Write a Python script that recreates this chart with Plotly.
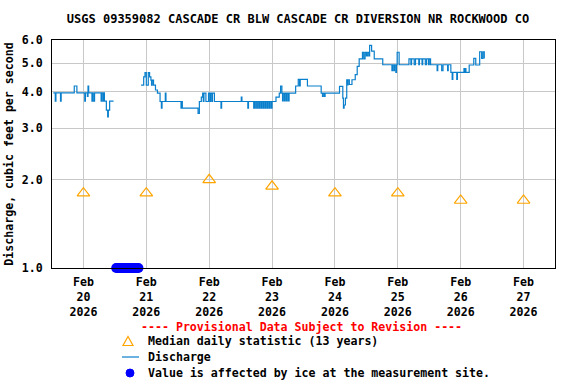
import plotly.graph_objects as go

# ---------------- data ----------------
discharge_times = [
    "2026-02-19 12:30", "2026-02-19 13:15", "2026-02-19 13:30", "2026-02-19 15:15",
    "2026-02-19 15:30", "2026-02-19 20:30", "2026-02-19 21:30", "2026-02-20 00:30",
    "2026-02-20 00:45", "2026-02-20 01:30", "2026-02-20 01:45", "2026-02-20 02:00",
    "2026-02-20 03:15", "2026-02-20 03:30", "2026-02-20 03:45", "2026-02-20 04:15",
    "2026-02-20 06:45", "2026-02-20 07:00", "2026-02-20 07:30", "2026-02-20 07:45",
    "2026-02-20 08:00", "2026-02-20 08:45", "2026-02-20 09:15", "2026-02-20 09:30",
    "2026-02-20 10:00", "2026-02-20 11:30",
    "2026-02-20 12:00",
    "2026-02-20 22:00", "2026-02-20 23:00", "2026-02-20 23:30", "2026-02-21 00:00",
    "2026-02-21 00:45", "2026-02-21 01:15", "2026-02-21 01:45", "2026-02-21 02:00",
    "2026-02-21 02:15", "2026-02-21 02:45", "2026-02-21 03:30", "2026-02-21 04:15",
    "2026-02-21 05:15", "2026-02-21 05:45", "2026-02-21 06:00", "2026-02-21 07:15",
    "2026-02-21 07:30", "2026-02-21 13:15", "2026-02-21 13:30", "2026-02-21 13:45",
    "2026-02-21 19:45", "2026-02-21 20:15", "2026-02-21 21:00", "2026-02-21 21:30",
    "2026-02-21 21:45", "2026-02-21 22:00", "2026-02-21 22:45", "2026-02-21 23:45",
    "2026-02-22 00:15", "2026-02-22 00:30", "2026-02-22 01:00", "2026-02-22 01:15",
    "2026-02-22 02:00", "2026-02-22 04:30", "2026-02-22 04:45", "2026-02-22 12:15",
    "2026-02-22 12:30", "2026-02-22 14:45", "2026-02-22 15:00", "2026-02-22 17:00",
    "2026-02-22 17:15", "2026-02-22 17:45", "2026-02-22 18:00", "2026-02-22 18:30",
    "2026-02-22 18:45", "2026-02-22 19:15", "2026-02-22 19:30", "2026-02-22 20:00",
    "2026-02-22 20:15", "2026-02-22 20:45", "2026-02-22 21:00", "2026-02-22 21:30",
    "2026-02-22 21:45", "2026-02-22 22:15", "2026-02-22 22:30", "2026-02-22 23:00",
    "2026-02-22 23:15", "2026-02-22 23:45", "2026-02-23 00:00", "2026-02-23 01:30",
    "2026-02-23 02:45", "2026-02-23 03:15", "2026-02-23 03:45", "2026-02-23 04:00",
    "2026-02-23 04:15", "2026-02-23 04:45", "2026-02-23 05:00", "2026-02-23 05:30",
    "2026-02-23 05:45", "2026-02-23 06:15", "2026-02-23 06:30", "2026-02-23 09:00",
    "2026-02-23 10:00", "2026-02-23 10:30", "2026-02-23 10:45", "2026-02-23 13:30",
    "2026-02-23 18:45", "2026-02-23 19:15", "2026-02-23 19:30", "2026-02-23 20:00",
    "2026-02-23 20:15", "2026-02-24 01:45", "2026-02-24 03:00", "2026-02-24 03:15",
    "2026-02-24 03:30", "2026-02-24 04:00", "2026-02-24 04:30", "2026-02-24 04:45",
    "2026-02-24 05:00", "2026-02-24 05:30", "2026-02-24 06:30", "2026-02-24 07:45",
    "2026-02-24 08:30", "2026-02-24 09:15", "2026-02-24 10:30", "2026-02-24 11:00",
    "2026-02-24 11:30", "2026-02-24 12:00", "2026-02-24 12:30", "2026-02-24 13:00",
    "2026-02-24 13:15", "2026-02-24 14:00", "2026-02-24 15:00", "2026-02-24 18:15",
    "2026-02-24 21:45", "2026-02-24 22:00", "2026-02-24 22:30", "2026-02-24 22:45",
    "2026-02-24 23:15", "2026-02-24 23:30", "2026-02-24 23:45", "2026-02-25 00:30",
    "2026-02-25 04:15", "2026-02-25 05:00", "2026-02-25 05:15", "2026-02-25 06:15",
    "2026-02-25 06:45", "2026-02-25 08:00", "2026-02-25 08:15", "2026-02-25 09:15",
    "2026-02-25 09:30", "2026-02-25 10:30", "2026-02-25 11:00", "2026-02-25 11:45",
    "2026-02-25 12:00", "2026-02-25 12:30", "2026-02-25 15:00", "2026-02-25 15:15",
    "2026-02-25 16:45", "2026-02-25 17:15", "2026-02-25 19:00", "2026-02-25 19:15",
    "2026-02-25 20:15", "2026-02-25 20:45", "2026-02-25 21:00", "2026-02-25 22:30",
    "2026-02-25 22:45", "2026-02-26 01:15", "2026-02-26 01:30", "2026-02-26 01:45",
    "2026-02-26 02:00", "2026-02-26 03:15", "2026-02-26 05:00", "2026-02-26 05:45",
    "2026-02-26 07:15", "2026-02-26 08:00", "2026-02-26 08:30", "2026-02-26 09:00",
]
discharge_values = [
    3.96, 3.71, 3.96, 3.71,
    3.96, 4.18, 3.96, 3.71,
    3.96, 3.85, 4.18, 3.96,
    3.71, 3.96, 3.71, 3.96,
    3.71, 3.96, 3.71, 3.96,
    3.71, 3.46, 3.28, 3.46,
    3.71, 3.71,
    None,
    4.21, 4.49, 4.64, 4.21,
    4.64, 4.49, 4.38, 4.21,
    4.38, 4.21, 4.05, 3.95,
    3.70, 3.51, 3.70, 3.95,
    3.70, 3.51, 3.70, 3.51,
    3.37, 3.70, 3.83, 3.95,
    3.70, 3.95, 3.70, 3.95,
    3.70, 3.95, 3.70, 3.95,
    3.70, 3.51, 3.70, 3.83,
    3.70, 3.51, 3.70, 3.51,
    3.70, 3.51, 3.70, 3.51,
    3.70, 3.51, 3.70, 3.51,
    3.70, 3.51, 3.70, 3.51,
    3.70, 3.51, 3.70, 3.51,
    3.70, 3.51, 3.70, 3.83,
    3.95, 4.18, 3.95, 3.72,
    3.95, 3.72, 3.95, 3.72,
    3.95, 3.72, 3.95, 4.18,
    4.40, 4.18, 4.40, 4.18,
    3.95, 3.85, 3.95, 3.85,
    3.95, 4.17, 3.80, 3.51,
    3.60, 3.80, 4.39, 4.22,
    4.39, 4.23, 4.39, 4.57,
    4.88, 5.17, 5.45, 5.17,
    5.45, 5.30, 5.45, 5.30,
    5.75, 5.50, 5.17, 4.94,
    4.72, 4.94, 4.72, 4.94,
    4.65, 4.94, 5.45, 4.94,
    5.17, 4.94, 5.17, 4.94,
    5.17, 4.94, 5.17, 4.94,
    5.17, 4.94, 5.17, 4.94,
    5.17, 4.94, 4.72, 4.94,
    4.72, 4.94, 4.72, 4.94,
    4.65, 4.40, 4.65, 4.40,
    4.65, 4.79, 4.65, 4.79,
    4.65, 4.93, 5.19, 4.93,
    5.47, 5.19, 5.47, 5.19,
]

median_times = ["2026-02-20", "2026-02-21", "2026-02-22", "2026-02-23",
                "2026-02-24", "2026-02-25", "2026-02-26", "2026-02-27"]
median_values = [1.8, 1.8, 2.0, 1.9, 1.8, 1.8, 1.7, 1.7]

ice_times = ["2026-02-20 12:30", "2026-02-20 13:00", "2026-02-20 13:30", "2026-02-20 14:00",
             "2026-02-20 14:30", "2026-02-20 15:00", "2026-02-20 15:30", "2026-02-20 16:00",
             "2026-02-20 16:30", "2026-02-20 17:00", "2026-02-20 17:30", "2026-02-20 18:00",
             "2026-02-20 18:30", "2026-02-20 19:00", "2026-02-20 19:30", "2026-02-20 20:00",
             "2026-02-20 20:30", "2026-02-20 21:00"]
ice_values = [1.0] * len(ice_times)

x_tick_vals = median_times
x_tick_text = ["Feb<br>20<br>2026", "Feb<br>21<br>2026", "Feb<br>22<br>2026", "Feb<br>23<br>2026",
               "Feb<br>24<br>2026", "Feb<br>25<br>2026", "Feb<br>26<br>2026", "Feb<br>27<br>2026"]
y_tick_vals = [1, 2, 3, 4, 5, 6]
y_tick_text = ["1.0", "2.0", "3.0", "4.0", "5.0", "6.0"]

title_text = "USGS 09359082 CASCADE CR BLW CASCADE CR DIVERSION NR ROCKWOOD CO"
provisional_text = "---- Provisional Data Subject to Revision ----"
legend_labels = ["Median daily statistic (13 years)", "Discharge",
                 "Value is affected by ice at the measurement site."]

# ---------------- figure ----------------
FONT = "DejaVu Sans Mono"
FS = 11.6
W, H = 576, 384
ML, MR, MT, MB = 52, 21, 40, 116
PW, PH = W - ML - MR, H - MT - MB

MEDIAN_COLOR = "#FFA500"
LINE_COLOR = "#0a7fcc"
ICE_COLOR = "#0000FF"


def px(x):   # page pixel -> paper x
    return (x - ML) / PW


def py(y):   # page pixel -> paper y
    return (H - MB - y) / PH


fig = go.Figure()

fig.add_trace(go.Scatter(
    x=median_times, y=median_values, mode="markers",
    name=legend_labels[0], showlegend=False,
    marker=dict(symbol="triangle-up-open", size=11, color=MEDIAN_COLOR,
                line=dict(width=1.2, color=MEDIAN_COLOR)),
))
fig.add_trace(go.Scatter(
    x=discharge_times, y=discharge_values, mode="lines",
    name=legend_labels[1], showlegend=False,
    line=dict(color=LINE_COLOR, width=1.2, shape="hv"),
    connectgaps=False,
))
fig.add_trace(go.Scatter(
    x=ice_times, y=ice_values, mode="markers",
    name=legend_labels[2], showlegend=False,
    marker=dict(symbol="circle", size=10, color=ICE_COLOR),
    cliponaxis=False,
))

# ---- legend keys (drawn as paper-referenced shapes) ----
tri_cx, tri_cy = 128, 341
fig.add_shape(type="path", xref="paper", yref="paper",
              path="M {a},{b} L {c},{d} L {e},{f} Z".format(
                  a=px(tri_cx - 5), b=py(tri_cy + 4.5),
                  c=px(tri_cx + 5), d=py(tri_cy + 4.5),
                  e=px(tri_cx), f=py(tri_cy - 4.5)),
              line=dict(color=MEDIAN_COLOR, width=1.2), fillcolor="rgba(0,0,0,0)")
fig.add_shape(type="line", xref="paper", yref="paper",
              x0=px(122), x1=px(139), y0=py(357), y1=py(357),
              line=dict(color=LINE_COLOR, width=1.2))
dot_cx, dot_cy, dot_r = 130, 373, 4
fig.add_shape(type="circle", xref="paper", yref="paper",
              x0=px(dot_cx - dot_r), x1=px(dot_cx + dot_r),
              y0=py(dot_cy + dot_r), y1=py(dot_cy - dot_r),
              line=dict(color=ICE_COLOR, width=1), fillcolor=ICE_COLOR)

for lbl, yy in zip(legend_labels, [341, 357, 373]):
    fig.add_annotation(text=lbl, xref="paper", yref="paper",
                       x=px(146), xanchor="left", y=py(yy), yanchor="middle",
                       showarrow=False,
                       font=dict(family=FONT, size=FS, color="black", weight="bold"))

fig.add_annotation(
    text=provisional_text, xref="paper", yref="paper",
    x=px(301), xanchor="center", y=py(327), yanchor="middle",
    showarrow=False,
    font=dict(family=FONT, size=FS, color="#FF0000", weight="bold"),
)

fig.update_layout(
    width=W, height=H,
    margin=dict(l=ML, r=MR, t=MT, b=MB, autoexpand=False),
    paper_bgcolor="white", plot_bgcolor="white",
    font=dict(family=FONT, size=FS, color="black", weight="bold"),
    title=dict(text=title_text, x=298 / W, xanchor="center",
               y=1 - 19 / H, yanchor="middle",
               font=dict(family=FONT, size=12, color="black", weight="bold")),
    showlegend=False,
    xaxis=dict(
        type="date",
        range=["2026-02-19 12:00", "2026-02-27 12:00"],
        tickmode="array", tickvals=x_tick_vals, ticktext=x_tick_text,
        showgrid=True, gridcolor="#c8c8c8", gridwidth=1,
        showline=True, linecolor="black", linewidth=1, mirror=True,
        ticks="", ticklabelstandoff=3,
        zeroline=False, automargin=False,
    ),
    yaxis=dict(
        type="log",
        range=[0, 0.77815125],
        tickmode="array", tickvals=y_tick_vals, ticktext=y_tick_text,
        showgrid=True, gridcolor="#c8c8c8", gridwidth=1,
        showline=True, linecolor="black", linewidth=1, mirror=True,
        ticks="", ticklabelstandoff=6,
        title=dict(text="Discharge, cubic feet per second", standoff=5,
                   font=dict(family=FONT, size=FS, color="black", weight="bold")),
        zeroline=False, automargin=False,
    ),
)

fig.write_html("out.html",
               config={"displayModeBar": False},
               post_script="document.body.style.margin='0';document.body.style.overflow='hidden';")
